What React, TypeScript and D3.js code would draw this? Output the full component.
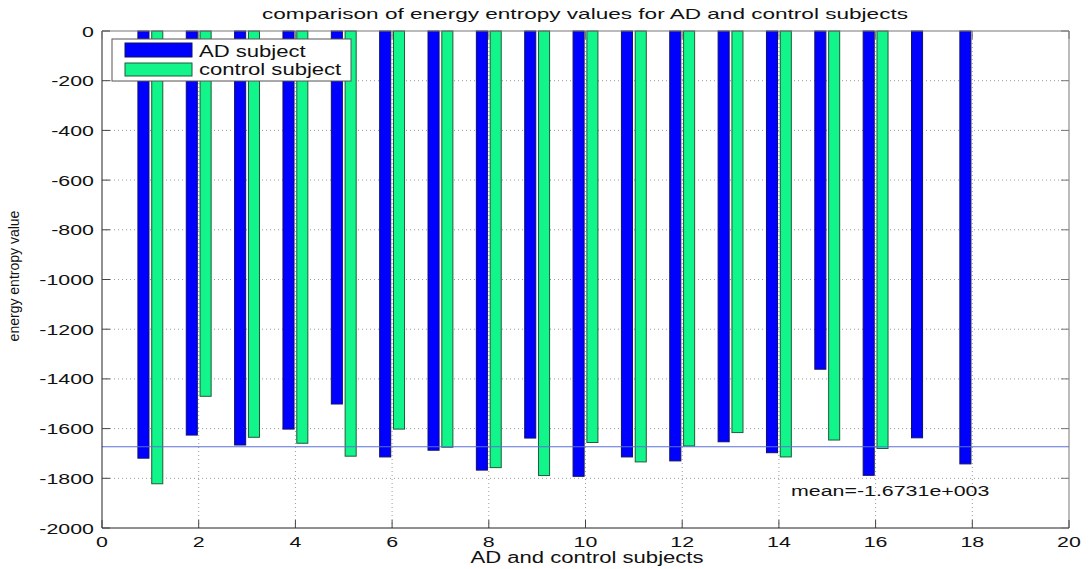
import React from "react";
import * as d3 from "d3";

// Energy entropy per subject
const subjects = [1, 2, 3, 4, 5, 6, 7, 8, 9, 10, 11, 12, 13, 14, 15, 16, 17, 18];
const adValues = [
  -1719, -1626, -1666, -1602, -1501, -1714, -1687, -1767, -1638,
  -1792, -1714, -1730, -1653, -1697, -1361, -1788, -1637, -1742,
];
const controlValues = [
  -1822, -1470, -1635, -1659, -1711, -1602, -1675, -1757, -1789,
  -1656, -1734, -1670, -1616, -1714, -1646, -1680,
];
const meanValue = -1673.1;
const meanLabel = "mean=-1.6731e+003";
const xTicks = [0, 2, 4, 6, 8, 10, 12, 14, 16, 18, 20];
const yTicks = [0, -200, -400, -600, -800, -1000, -1200, -1400, -1600, -1800, -2000];
const seriesNames = ["AD subject", "control subject"];

const W = 1090;
const H = 569;
const plot = { left: 102, right: 1069, top: 31, bottom: 528 };
const SX = 1.38; // horizontal stretch of the figure's text
const FONT = "'Liberation Sans', Arial, Helvetica, sans-serif";
const BLUE = "#0000ff";
const GREEN = "#12f58a";
const TEXT = "#111";

const x = d3.scaleLinear().domain([0, 20]).range([plot.left, plot.right]);
const y = d3.scaleLinear().domain([-2000, 0]).range([plot.bottom, plot.top]);

// grouped bar geometry (two series per group)
const groupWidth = Math.min(0.8, 2 / (2 + 1.5));
const barW = (groupWidth / 2) * 0.8;
const offsets = [-groupWidth / 4, groupWidth / 4];

function STxt(props: {
  x: number;
  y: number;
  size: number;
  anchor?: string;
  children: React.ReactNode;
}) {
  return (
    <text
      transform={`translate(${props.x},${props.y}) scale(${SX},1)`}
      fontSize={props.size}
      fontFamily={FONT}
      fill={TEXT}
      textAnchor={props.anchor || "start"}
    >
      {props.children}
    </text>
  );
}

export default function App() {
  const bars: React.ReactNode[] = [];
  const series = [adValues, controlValues];
  const colors = [BLUE, GREEN];
  const edges = ["#10106a", "#1f5a3a"];
  series.forEach((vals, si) => {
    vals.forEach((v, i) => {
      const s = subjects[i];
      const x0 = x(s + offsets[si] - barW / 2);
      const x1 = x(s + offsets[si] + barW / 2);
      const yTop = y(0);
      const yBot = y(v);
      bars.push(
        <rect
          key={`b${si}-${i}`}
          x={x0}
          y={yTop}
          width={x1 - x0}
          height={yBot - yTop}
          fill={colors[si]}
          stroke={edges[si]}
          strokeWidth={1}
        />
      );
    });
  });

  return (
    <svg
      width={W}
      height={H}
      style={{ position: "absolute", left: 0, top: 0, background: "#fff" }}
    >
      <rect x={0} y={0} width={W} height={H} fill="#fff" />

      {/* grid */}
      {yTicks
        .filter((t) => t !== 0 && t !== -2000)
        .map((t) => (
          <line
            key={`gy${t}`}
            x1={plot.left}
            x2={plot.right}
            y1={y(t)}
            y2={y(t)}
            stroke="#9a9a9a"
            strokeWidth={1}
            strokeDasharray="1,3"
          />
        ))}
      {xTicks
        .filter((t) => t !== 0 && t !== 20)
        .map((t) => (
          <line
            key={`gx${t}`}
            x1={x(t)}
            x2={x(t)}
            y1={plot.top}
            y2={plot.bottom}
            stroke="#9a9a9a"
            strokeWidth={1}
            strokeDasharray="1,3"
          />
        ))}

      {bars}

      {/* mean line */}
      <line
        x1={plot.left}
        x2={plot.right}
        y1={y(meanValue)}
        y2={y(meanValue)}
        stroke="#5b6fd8"
        strokeWidth={1}
      />

      {/* axes box */}
      <line x1={plot.left} x2={plot.right} y1={plot.top} y2={plot.top} stroke="#777" />
      <line x1={plot.right} x2={plot.right} y1={plot.top} y2={plot.bottom} stroke="#777" />
      <line x1={plot.left} x2={plot.left} y1={plot.top} y2={plot.bottom} stroke="#222" />
      <line x1={plot.left} x2={plot.right} y1={plot.bottom} y2={plot.bottom} stroke="#222" />

      {/* ticks */}
      {yTicks.map((t) => (
        <g key={`ty${t}`}>
          <line x1={plot.left} x2={plot.left + 8} y1={y(t)} y2={y(t)} stroke="#444" />
          <line x1={plot.right - 8} x2={plot.right} y1={y(t)} y2={y(t)} stroke="#777" />
          <STxt x={94} y={y(t) + 5.5} size={15.5} anchor="end">
            {t}
          </STxt>
        </g>
      ))}
      {xTicks.map((t) => (
        <g key={`tx${t}`}>
          <line x1={x(t)} x2={x(t)} y1={plot.bottom - 8} y2={plot.bottom} stroke="#444" />
          <line x1={x(t)} x2={x(t)} y1={plot.top} y2={plot.top + 8} stroke="#777" />
          <STxt x={x(t)} y={547} size={15.5} anchor="middle">
            {t}
          </STxt>
        </g>
      ))}

      {/* mean label */}
      <STxt x={791} y={496} size={15.5}>
        {meanLabel}
      </STxt>

      {/* titles */}
      <text
        x={585}
        y={19}
        fontSize={14.5}
        fontFamily={FONT}
        fill={TEXT}
        textAnchor="middle"
        textLength={646}
        lengthAdjust="spacingAndGlyphs"
      >
        comparison of energy entropy values for AD and control subjects
      </text>
      <STxt x={587} y={563} size={16} anchor="middle">
        AD and control subjects
      </STxt>
      <text
        transform="translate(19,276) rotate(-90)"
        fontSize={14}
        fontFamily={FONT}
        fill={TEXT}
        textAnchor="middle"
      >
        energy entropy value
      </text>

      {/* legend */}
      <rect x={112} y={39} width={239} height={42} fill="#fff" stroke="#555" strokeWidth={1} />
      <rect x={125} y={43} width={67} height={14} fill={BLUE} stroke={edges[0]} />
      <rect x={125} y={63} width={67} height={13} fill={GREEN} stroke={edges[1]} />
      <STxt x={199} y={56.5} size={16}>
        {seriesNames[0]}
      </STxt>
      <STxt x={199} y={74.5} size={16}>
        {seriesNames[1]}
      </STxt>
    </svg>
  );
}
